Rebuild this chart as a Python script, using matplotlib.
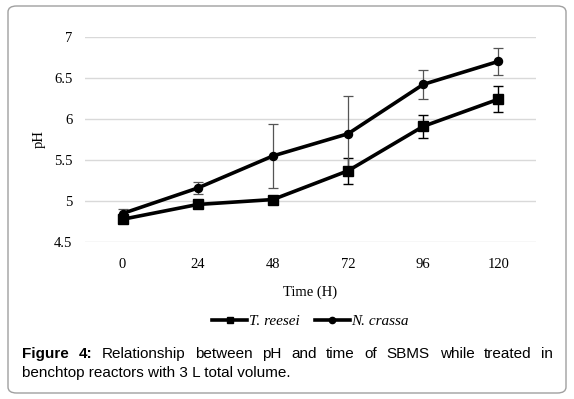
import numpy as np
import matplotlib.pyplot as plt
from matplotlib.lines import Line2D
from matplotlib.patches import FancyBboxPatch

# data
hours = ["0", "24", "48", "72", "96", "120"]
t_reesei = [4.78, 4.96, 5.02, 5.37, 5.91, 6.24]
t_reesei_err = [0.02, 0.02, 0.02, 0.16, 0.14, 0.16]
n_crassa = [4.85, 5.16, 5.55, 5.82, 6.42, 6.70]
n_crassa_err = [0.05, 0.07, 0.39, 0.46, 0.18, 0.16]

serif = "Liberation Serif"

fig = plt.figure(figsize=(5.74, 3.99), dpi=100)
ax = fig.add_axes([85/574, 1-242.3/399, 451/574, 205.6/399])

x = np.arange(len(hours))
ax.errorbar(x, t_reesei, yerr=t_reesei_err, color="black", lw=2.6,
            marker="s", markersize=7.5, ecolor="black", elinewidth=1.0,
            capsize=3.5, capthick=1.0, zorder=3)
ax.errorbar(x, n_crassa, yerr=n_crassa_err, color="black", lw=2.6,
            marker="o", markersize=5.8, ecolor="#555555", elinewidth=0.9,
            capsize=3.5, capthick=0.9, zorder=3)

ax.set_xlim(-0.5, len(hours) - 0.5)
ax.set_ylim(4.5, 7.0)
ax.set_yticks([4.5, 5, 5.5, 6, 6.5, 7])
ax.set_yticklabels(["4.5", "5", "5.5", "6", "6.5", "7"])
ax.set_xticks(x)
ax.set_xticklabels(hours)
ax.grid(axis="y", color="#d9d9d9", lw=1.0)
ax.set_axisbelow(True)
for s in ax.spines.values():
    s.set_visible(False)
ax.tick_params(length=0, labelsize=10.5)
ax.tick_params(axis="y", pad=9)
ax.tick_params(axis="x", pad=11)
for lab in ax.get_xticklabels() + ax.get_yticklabels():
    lab.set_fontfamily(serif)

ax.set_xlabel("Time (H)", fontfamily=serif, fontsize=10.5, labelpad=11)
ax.set_ylabel("pH", fontfamily=serif, fontsize=10.5, labelpad=6)

handles = [Line2D([], [], color="black", lw=2.6, marker="s", markersize=5),
           Line2D([], [], color="black", lw=2.6, marker="o", markersize=4.5)]
leg = ax.legend(handles, ["T. reesei", "N. crassa"], loc="center",
                bbox_to_anchor=(0.5, 1 - (321 - 36.7) / 205.6), ncol=2,
                frameon=False, handlelength=2.3, handletextpad=0.1,
                columnspacing=1.0,
                prop={"family": serif, "style": "italic", "size": 11})

# rounded frame around figure + caption
frame = FancyBboxPatch((8/574, 6/399), 558/574, 387/399,
                       boxstyle="round,pad=0,rounding_size=0.015",
                       transform=fig.transFigure, fill=False,
                       edgecolor="#a0a0a0", lw=1.0)
fig.patches.append(frame)

# caption, first line justified
fig.canvas.draw()
r = fig.canvas.get_renderer()
left, right = 22, 553
line1 = ["Figure", "4:", "Relationship", "between", "pH", "and", "time", "of",
         "SBMS", "while", "treated", "in"]
y1 = 1 - 354/399
texts = []
for i, w in enumerate(line1):
    bold = i < 2
    t = fig.text(0, y1, w, fontsize=11, fontfamily="Liberation Sans",
                 fontweight="bold" if bold else "normal", va="center",
                 ha="left")
    texts.append(t)
widths = [t.get_window_extent(r).width for t in texts]
gap = (right - left - sum(widths)) / (len(texts) - 1)
pos = left
for t, w in zip(texts, widths):
    t.set_x(pos / 574)
    pos += w + gap
fig.text(left/574, 1 - 373/399, "benchtop reactors with 3 L total volume.",
         fontsize=11, fontfamily="Liberation Sans", va="center", ha="left")

fig.savefig("out.png", dpi=100)
